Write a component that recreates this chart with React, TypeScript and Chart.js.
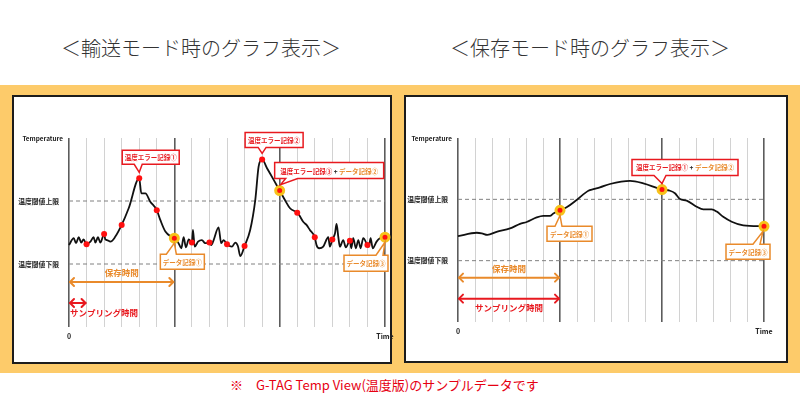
import React, { useEffect, useRef } from "react";
import { Chart, registerables } from "chart.js";

Chart.register(...registerables);

const FONT = '"Noto Sans CJK JP", "Noto Sans", sans-serif';
const RED = "#E8191F";
const ORANGE = "#E98A2B";
const DARK = "#222222";

// ---------- shared axis data ----------
const sampleGrid = [0, 1, 2, 3, 4, 5, 6, 7, 8, 9, 10, 11, 12, 13, 14, 15, 16, 17, 18];
const majorEvery = 6;
const tempMin = -10;
const tempMax = 50;
const thresholdValues = [10, 30];
const thresholdLabels = ["温度閾値下限", "温度閾値上限"];
const timeTickLabels = ["0", "Time"];
const axisTitle = "Temperature";
const labelStorage = "保存時間";
const labelSampling = "サンプリング時間";

// ---------- transport mode (left) ----------
const transportTimeX = [0, 0.27, 0.4, 0.55, 0.7, 0.83, 1, 1.22, 1.4, 1.5, 1.65, 1.79, 2, 2.07, 2.16, 2.36, 2.64, 3, 3.4, 4, 4.12, 4.35, 4.63, 5, 5.2, 5.49, 5.87, 6, 6.24, 6.4, 6.53, 6.66, 6.82, 7, 7.06, 7.16, 7.35, 7.57, 7.76, 8, 8.1, 8.24, 8.52, 8.67, 8.81, 9, 9.28, 9.47, 9.62, 9.76, 10, 10.32, 10.61, 10.8, 11, 11.28, 11.66, 12, 12.3, 12.59, 13, 13.1, 13.34, 13.53, 13.72, 14, 14.1, 14.25, 14.48, 14.77, 14.86, 15, 15.15, 15.24, 15.34, 15.43, 15.62, 15.77, 16, 16.08, 16.19, 16.34, 16.48, 16.61, 16.76, 17, 17.08, 17.18, 17.3, 17.52, 17.71, 18];
const transportTemp = [16.0, 18.2, 16.6, 18.5, 16.8, 17.8, 16.3, 17.1, 18.5, 16.8, 18.5, 16.8, 19.5, 17.8, 17.6, 17.1, 18.7, 22.4, 27.7, 37.2, 32.4, 32.4, 29.8, 27.1, 24.0, 20.3, 18.5, 18.2, 16.6, 15.0, 18.5, 15.3, 17.8, 16.8, 20.8, 15.5, 17.1, 17.6, 16.6, 16.8, 16.0, 17.6, 21.6, 16.6, 17.6, 16.3, 15.5, 16.8, 15.7, 12.5, 15.7, 20.8, 30.3, 40.9, 43.2, 40.4, 36.7, 33.3, 30.3, 27.7, 26.3, 25.6, 23.4, 22.4, 20.8, 18.5, 16.0, 15.0, 15.5, 18.5, 15.5, 17.8, 19.7, 22.7, 18.6, 15.5, 17.6, 15.3, 17.4, 15.0, 18.2, 15.0, 17.6, 15.0, 18.2, 16.0, 15.5, 18.2, 15.0, 17.1, 18.2, 18.5];
const transportSampleX = [1, 2, 3, 4, 5, 6, 7, 8, 9, 10, 11, 12, 13, 14, 15, 16, 17, 18];
const transportSampleTemp = [16.3, 19.5, 22.4, 37.2, 27.1, 18.2, 16.8, 16.8, 16.3, 15.7, 43.2, 33.3, 26.3, 18.5, 17.8, 17.4, 16.0, 18.5];
const transportRecordX = [6, 12, 18];
const transportRecordTemp = [18.2, 33.3, 18.5];
const transportStorageSpan = [0, 6];
const transportSamplingSpan = [0, 1];

// ---------- storage mode (right) ----------
const storageTimeX = [0, 1.1, 1.4, 1.73, 2.27, 3.06, 3.65, 4.04, 4.63, 5.02, 5.41, 5.61, 6, 6.39, 6.98, 7.67, 7.96, 8.35, 8.94, 10.12, 10.9, 12, 12.47, 12.76, 13.06, 13.45, 14.04, 14.43, 14.92, 15.22, 15.6, 16.1, 16.78, 18];
const storageTemp = [18.0, 19.1, 18.9, 18.4, 19.4, 20.5, 22.0, 22.6, 24.1, 24.6, 24.6, 25.4, 26.4, 27.4, 29.8, 32.8, 33.3, 33.9, 35.0, 36.0, 35.2, 33.2, 32.8, 32.0, 30.1, 29.6, 27.6, 26.7, 26.7, 26.0, 24.3, 22.7, 21.5, 21.2];
const storageRecordX = [6, 12, 18];
const storageRecordTemp = [26.4, 33.2, 21.2];
const storageStorageSpan = [0, 6];
const storageSamplingSpan = [0, 6];

type Seg = { text: string; color: string };
type Callout = {
  ax: number; ay: number; border: string; segs: Seg[];
  dx: number; dy: number; w: number; h: number;
  side: "top" | "bottom"; b1: number; b2: number; tipDx: number; tipDy: number;
};

const transportCallouts: Callout[] = [
  { ax: transportSampleX[3], ay: transportSampleTemp[3], border: RED, segs: [{ text: "温度エラー記録①", color: RED }],
    dx: -17, dy: -28, w: 57, h: 14, side: "bottom", b1: -5, b2: 3, tipDx: 0, tipDy: -6 },
  { ax: transportSampleX[10], ay: transportSampleTemp[10], border: RED, segs: [{ text: "温度エラー記録②", color: RED }],
    dx: -17, dy: -27, w: 58, h: 15, side: "bottom", b1: -4, b2: 4, tipDx: 0, tipDy: -6 },
  { ax: transportRecordX[1], ay: transportRecordTemp[1], border: RED,
    segs: [{ text: "温度エラー記録③", color: RED }, { text: " + ", color: DARK }, { text: "データ記録②", color: ORANGE }],
    dx: -5, dy: -28, w: 109, h: 16, side: "bottom", b1: 6, b2: 18, tipDx: 1, tipDy: -6 },
  { ax: transportRecordX[0], ay: transportRecordTemp[0], border: ORANGE, segs: [{ text: "データ記録①", color: ORANGE }],
    dx: -14, dy: 16, w: 44, h: 15, side: "top", b1: -8, b2: 2, tipDx: 0, tipDy: 5 },
  { ax: transportRecordX[2], ay: transportRecordTemp[2], border: ORANGE, segs: [{ text: "データ記録③", color: ORANGE }],
    dx: -41, dy: 18, w: 44, h: 16, side: "top", b1: -9, b2: -2, tipDx: 0, tipDy: 5 },
];

const storageCallouts: Callout[] = [
  { ax: storageRecordX[0], ay: storageRecordTemp[0], border: ORANGE, segs: [{ text: "データ記録①", color: ORANGE }],
    dx: -13, dy: 16, w: 45, h: 15, side: "top", b1: -5, b2: 2, tipDx: 0, tipDy: 5 },
  { ax: storageRecordX[1], ay: storageRecordTemp[1], border: RED,
    segs: [{ text: "温度エラー記録①", color: RED }, { text: " + ", color: DARK }, { text: "データ記録②", color: ORANGE }],
    dx: -30, dy: -30, w: 106, h: 16, side: "bottom", b1: -8, b2: 4, tipDx: 0, tipDy: -6 },
  { ax: storageRecordX[2], ay: storageRecordTemp[2], border: ORANGE, segs: [{ text: "データ記録③", color: ORANGE }],
    dx: -38, dy: 18, w: 44, h: 15, side: "top", b1: -11, b2: -4, tipDx: -1, tipDy: 5 },
];

type PanelSpec = {
  canvasLeft: number;
  lineX: number[]; lineY: number[];
  sampleX: number[]; sampleY: number[];
  recordX: number[]; recordY: number[];
  storageSpan: number[]; samplingSpan: number[];
  samplingAlign: "left" | "center";
  yAxisWidth: number; xAxisHeight: number;
  padding: { left: number; top: number; right: number; bottom: number };
  off: { storageText: number; storageArrow: number; samplingArrow: number; samplingText: number };
  callouts: Callout[];
};

const transportSpec: PanelSpec = {
  canvasLeft: 0,
  lineX: transportTimeX, lineY: transportTemp,
  sampleX: transportSampleX, sampleY: transportSampleTemp,
  recordX: transportRecordX, recordY: transportRecordTemp,
  storageSpan: transportStorageSpan, samplingSpan: transportSamplingSpan,
  samplingAlign: "left",
  yAxisWidth: 69, xAxisHeight: 20,
  padding: { left: 0, top: 43, right: 15, bottom: 17 },
  off: { storageText: 9, storageArrow: 18, samplingArrow: 39, samplingText: 49 },
  callouts: transportCallouts,
};

const storageSpec: PanelSpec = {
  canvasLeft: 400,
  lineX: storageTimeX, lineY: storageTemp,
  sampleX: [], sampleY: [],
  recordX: storageRecordX, recordY: storageRecordTemp,
  storageSpan: storageStorageSpan, samplingSpan: storageSamplingSpan,
  samplingAlign: "center",
  yAxisWidth: 58, xAxisHeight: 20,
  padding: { left: 0, top: 43, right: 36, bottom: 22 },
  off: { storageText: 8, storageArrow: 17, samplingArrow: 38, samplingText: 47 },
  callouts: storageCallouts,
};

function zip(xs: number[], ys: number[]) {
  return xs.map((x, i) => ({ x, y: ys[i] }));
}

function doubleArrow(ctx: CanvasRenderingContext2D, x1: number, x2: number, y: number, color: string) {
  ctx.strokeStyle = color;
  ctx.lineWidth = 2;
  ctx.lineCap = "round";
  ctx.lineJoin = "round";
  ctx.beginPath();
  ctx.moveTo(x1 + 1, y);
  ctx.lineTo(x2 - 1, y);
  ctx.stroke();
  ctx.beginPath();
  ctx.moveTo(x1 + 5, y - 4);
  ctx.lineTo(x1 + 1, y);
  ctx.lineTo(x1 + 5, y + 4);
  ctx.stroke();
  ctx.beginPath();
  ctx.moveTo(x2 - 5, y - 4);
  ctx.lineTo(x2 - 1, y);
  ctx.lineTo(x2 - 5, y + 4);
  ctx.stroke();
}

function drawCallout(ctx: CanvasRenderingContext2D, px: number, py: number, c: Callout) {
  const x = px + c.dx, y = py + c.dy, w = c.w, h = c.h;
  const tx = px + c.tipDx, ty = py + c.tipDy;
  ctx.beginPath();
  if (c.side === "bottom") {
    ctx.moveTo(x, y);
    ctx.lineTo(x + w, y);
    ctx.lineTo(x + w, y + h);
    ctx.lineTo(px + c.b2, y + h);
    ctx.lineTo(tx, ty);
    ctx.lineTo(px + c.b1, y + h);
    ctx.lineTo(x, y + h);
  } else {
    ctx.moveTo(x, y);
    ctx.lineTo(px + c.b1, y);
    ctx.lineTo(tx, ty);
    ctx.lineTo(px + c.b2, y);
    ctx.lineTo(x + w, y);
    ctx.lineTo(x + w, y + h);
    ctx.lineTo(x, y + h);
  }
  ctx.closePath();
  ctx.fillStyle = "#ffffff";
  ctx.fill();
  ctx.strokeStyle = c.border;
  ctx.lineWidth = 1.5;
  ctx.lineJoin = "miter";
  ctx.stroke();
  ctx.font = `bold 6.5px ${FONT}`;
  ctx.textBaseline = "middle";
  ctx.textAlign = "left";
  const widths = c.segs.map((s) => ctx.measureText(s.text).width);
  const total = widths.reduce((a, b) => a + b, 0);
  let cx = x + w / 2 - total / 2;
  c.segs.forEach((s, i) => {
    ctx.fillStyle = s.color;
    ctx.fillText(s.text, cx, y + h / 2 + 0.5);
    cx += widths[i];
  });
}

function makePlugin(spec: PanelSpec) {
  return {
    id: "panelDecor",
    afterDraw(chart: any) {
      const { ctx, chartArea } = chart;
      const xs = chart.scales.x;
      const ys = chart.scales.y;
      ctx.save();
      ctx.font = `bold 6.4px ${FONT}`;
      ctx.fillStyle = DARK;
      ctx.textAlign = "right";
      ctx.textBaseline = "middle";
      ctx.fillText(axisTitle, chartArea.left - 6, chartArea.top + 1);

      const low = ys.getPixelForValue(thresholdValues[0]);
      const s1 = xs.getPixelForValue(spec.storageSpan[0]);
      const s2 = xs.getPixelForValue(spec.storageSpan[1]);
      const p1 = xs.getPixelForValue(spec.samplingSpan[0]);
      const p2 = xs.getPixelForValue(spec.samplingSpan[1]);

      ctx.font = `bold 8.5px ${FONT}`;
      ctx.textAlign = "center";
      ctx.fillStyle = ORANGE;
      ctx.fillText(labelStorage, (s1 + s2) / 2, low + spec.off.storageText);
      doubleArrow(ctx, s1, s2, low + spec.off.storageArrow, ORANGE);
      doubleArrow(ctx, p1, p2, low + spec.off.samplingArrow, RED);
      ctx.fillStyle = RED;
      if (spec.samplingAlign === "left") {
        ctx.textAlign = "left";
        ctx.fillText(labelSampling, p1 + 1, low + spec.off.samplingText);
      } else {
        ctx.textAlign = "center";
        ctx.fillText(labelSampling, (p1 + p2) / 2, low + spec.off.samplingText);
      }

      spec.callouts.forEach((c) => {
        drawCallout(ctx, xs.getPixelForValue(c.ax), ys.getPixelForValue(c.ay), c);
      });
      ctx.restore();
    },
  };
}

function TempPanel({ spec }: { spec: PanelSpec }) {
  const ref = useRef<HTMLCanvasElement>(null);
  useEffect(() => {
    const last = sampleGrid[sampleGrid.length - 1];
    const chart = new Chart(ref.current as HTMLCanvasElement, {
      type: "scatter",
      data: {
        datasets: [
          {
            data: zip(spec.recordX, spec.recordY),
            pointRadius: 4,
            pointBackgroundColor: "#FF1010",
            pointBorderColor: "#F7C21A",
            pointBorderWidth: 3,
            showLine: false,
            clip: false,
            order: 0,
          },
          {
            data: zip(spec.sampleX, spec.sampleY),
            pointRadius: 3,
            pointBackgroundColor: "#FF1010",
            pointBorderWidth: 0,
            showLine: false,
            clip: false,
            order: 1,
          },
          {
            data: zip(spec.lineX, spec.lineY),
            showLine: true,
            borderColor: "#111111",
            borderWidth: 1.8,
            pointRadius: 0,
            cubicInterpolationMode: "monotone",
            clip: false,
            order: 2,
          },
          {
            data: [{ x: sampleGrid[0], y: thresholdValues[1] }, { x: last, y: thresholdValues[1] }],
            showLine: true,
            borderColor: "#808080",
            borderWidth: 1,
            borderDash: [4, 3],
            pointRadius: 0,
            order: 3,
          },
          {
            data: [{ x: sampleGrid[0], y: thresholdValues[0] }, { x: last, y: thresholdValues[0] }],
            showLine: true,
            borderColor: "#808080",
            borderWidth: 1,
            borderDash: [4, 3],
            pointRadius: 0,
            order: 3,
          },
        ] as any,
      },
      options: {
        responsive: false,
        animation: false,
        events: [],
        layout: { padding: spec.padding },
        plugins: { legend: { display: false }, tooltip: { enabled: false } },
        scales: {
          x: {
            type: "linear",
            min: sampleGrid[0],
            max: last,
            afterBuildTicks: (s: any) => {
              s.ticks = sampleGrid.map((v) => ({ value: v }));
            },
            afterFit: (s: any) => {
              s.height = spec.xAxisHeight;
            },
            ticks: {
              autoSkip: false,
              maxRotation: 0,
              padding: 5,
              color: DARK,
              font: { family: FONT, size: 7, weight: "bold" },
              callback: (v: any) => (v === sampleGrid[0] ? timeTickLabels[0] : v === last ? timeTickLabels[1] : ""),
            },
            grid: {
              drawTicks: false,
              color: (c: any) => (c.tick && c.tick.value % majorEvery === 0 ? "#5c5c5c" : "#d2d2d2"),
              lineWidth: (c: any) => (c.tick && c.tick.value % majorEvery === 0 ? 1.6 : 1),
            },
            border: { display: false },
          },
          y: {
            type: "linear",
            min: tempMin,
            max: tempMax,
            afterBuildTicks: (s: any) => {
              s.ticks = thresholdValues.map((v) => ({ value: v }));
            },
            afterFit: (s: any) => {
              s.width = spec.yAxisWidth;
            },
            ticks: {
              autoSkip: false,
              padding: 2,
              color: DARK,
              font: { family: FONT, size: 6.8, weight: "bold" },
              callback: (_v: any, i: number) => thresholdLabels[i],
            },
            grid: { display: false },
            border: { display: false },
          },
        },
      } as any,
      plugins: [makePlugin(spec)],
    });
    return () => chart.destroy();
  }, [spec]);
  return (
    <canvas
      ref={ref}
      width={400}
      height={269}
      style={{ position: "absolute", left: spec.canvasLeft, top: 95, width: 400, height: 269 }}
    />
  );
}

export default function App() {
  return (
    <div
      style={{
        position: "absolute",
        left: 0,
        top: 0,
        width: 800,
        height: 400,
        background: "#ffffff",
        overflow: "hidden",
        fontFamily: FONT,
      }}
    >
      <div style={{ position: "absolute", left: 0, top: 35, width: 402, textAlign: "center", fontSize: 20, lineHeight: "26px", color: "#333", fontWeight: 300 }}>
        ＜輸送モード時のグラフ表示＞
      </div>
      <div style={{ position: "absolute", left: 390, top: 35, width: 400, textAlign: "center", fontSize: 20, lineHeight: "26px", color: "#333", fontWeight: 300 }}>
        ＜保存モード時のグラフ表示＞
      </div>
      <div style={{ position: "absolute", left: 0, top: 85, width: 800, height: 288, background: "#FDCB6A" }} />
      <div style={{ position: "absolute", left: 12, top: 95, width: 380, height: 269, boxSizing: "border-box", border: "2px solid #1c1c1c", background: "#fff" }} />
      <div style={{ position: "absolute", left: 404, top: 95, width: 384, height: 268, boxSizing: "border-box", border: "2px solid #1c1c1c", background: "#fff" }} />
      <TempPanel spec={transportSpec} />
      <TempPanel spec={storageSpec} />
      <div style={{ position: "absolute", left: 230, top: 376, fontSize: 13, lineHeight: "18px", color: "#E60012", whiteSpace: "nowrap" }}>
        ※　G-TAG Temp View(温度版)のサンプルデータです
      </div>
    </div>
  );
}
